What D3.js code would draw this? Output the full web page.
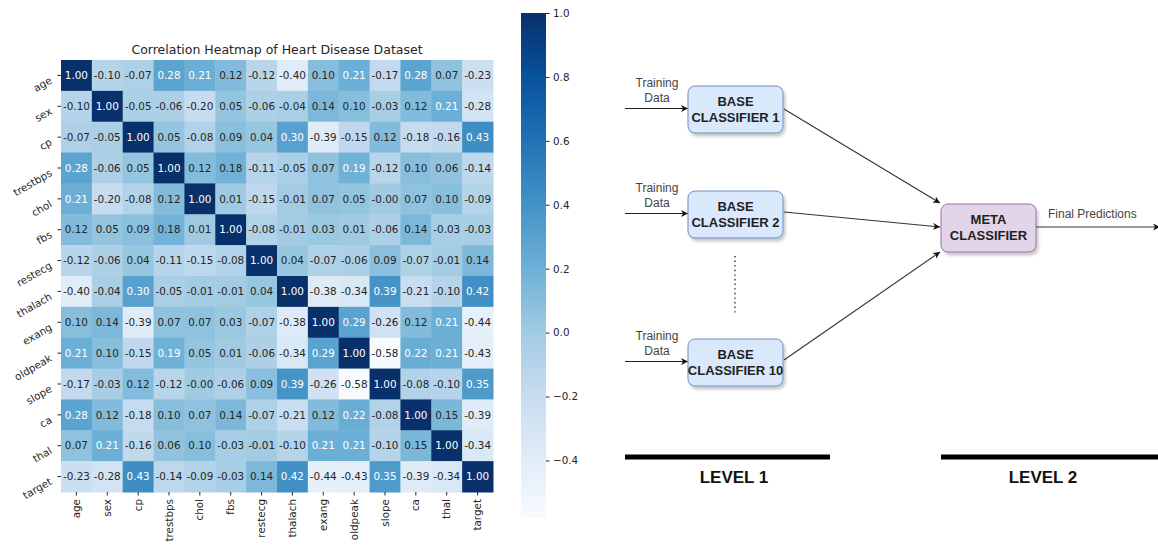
<!DOCTYPE html>
<html>
<head>
<meta charset="utf-8">
<script src="https://cdn.jsdelivr.net/npm/d3@7"></script>
<style>
  body { margin: 0; background: #fff; }
  svg { display: block; }
</style>
</head>
<body>
<div id="chart"></div>
<script>
// ---- data ----
var features = ["age", "sex", "cp", "trestbps", "chol", "fbs", "restecg",
                "thalach", "exang", "oldpeak", "slope", "ca", "thal", "target"];

var corrAge      = [ 1.00, -0.10, -0.07,  0.28,  0.21,  0.12, -0.12, -0.40,  0.10,  0.21, -0.17,  0.28,  0.07, -0.23];
var corrSex      = [-0.10,  1.00, -0.05, -0.06, -0.20,  0.05, -0.06, -0.04,  0.14,  0.10, -0.03,  0.12,  0.21, -0.28];
var corrCp       = [-0.07, -0.05,  1.00,  0.05, -0.08,  0.09,  0.04,  0.30, -0.39, -0.15,  0.12, -0.18, -0.16,  0.43];
var corrTrestbps = [ 0.28, -0.06,  0.05,  1.00,  0.12,  0.18, -0.11, -0.05,  0.07,  0.19, -0.12,  0.10,  0.06, -0.14];
var corrChol     = [ 0.21, -0.20, -0.08,  0.12,  1.00,  0.01, -0.15, -0.01,  0.07,  0.05, -0.004, 0.07,  0.10, -0.09];
var corrFbs      = [ 0.12,  0.05,  0.09,  0.18,  0.01,  1.00, -0.08, -0.01,  0.03,  0.01, -0.06,  0.14, -0.03, -0.03];
var corrRestecg  = [-0.12, -0.06,  0.04, -0.11, -0.15, -0.08,  1.00,  0.04, -0.07, -0.06,  0.09, -0.07, -0.01,  0.14];
var corrThalach  = [-0.40, -0.04,  0.30, -0.05, -0.01, -0.01,  0.04,  1.00, -0.38, -0.34,  0.39, -0.21, -0.10,  0.42];
var corrExang    = [ 0.10,  0.14, -0.39,  0.07,  0.07,  0.03, -0.07, -0.38,  1.00,  0.29, -0.26,  0.12,  0.21, -0.44];
var corrOldpeak  = [ 0.21,  0.10, -0.15,  0.19,  0.05,  0.01, -0.06, -0.34,  0.29,  1.00, -0.58,  0.22,  0.21, -0.43];
var corrSlope    = [-0.17, -0.03,  0.12, -0.12, -0.004,-0.06,  0.09,  0.39, -0.26, -0.58,  1.00, -0.08, -0.10,  0.35];
var corrCa       = [ 0.28,  0.12, -0.18,  0.10,  0.07,  0.14, -0.07, -0.21,  0.12,  0.22, -0.08,  1.00,  0.15, -0.39];
var corrThal     = [ 0.07,  0.21, -0.16,  0.06,  0.10, -0.03, -0.01, -0.10,  0.21,  0.21, -0.10,  0.15,  1.00, -0.34];
var corrTarget   = [-0.23, -0.28,  0.43, -0.14, -0.09, -0.03,  0.14,  0.42, -0.44, -0.43,  0.35, -0.39, -0.34,  1.00];

var corrRows = [corrAge, corrSex, corrCp, corrTrestbps, corrChol, corrFbs, corrRestecg,
                corrThalach, corrExang, corrOldpeak, corrSlope, corrCa, corrThal, corrTarget];

var cbarTicks = [-0.4, -0.2, 0.0, 0.2, 0.4, 0.6, 0.8, 1.0];
var vmin = -0.58, vmax = 1.0;
var title = "Correlation Heatmap of Heart Disease Dataset";

// diagram texts
var baseLabels = ["CLASSIFIER 1", "CLASSIFIER 2", "CLASSIFIER 10"];
var inputLabel = ["Training", "Data"];
var metaLabel = ["META", "CLASSIFIER"];
var outputLabel = "Final Predictions";
var levelLabels = ["LEVEL 1", "LEVEL 2"];

// matplotlib "Blues" control colours
var blues = ["#f7fbff", "#deebf7", "#c6dbef", "#9ecae1", "#6baed6",
             "#4292c6", "#2171b5", "#08519c", "#08306b"];

// ---- setup ----
var W = 1158, H = 545;
var svg = d3.select("#chart").append("svg")
    .attr("width", W).attr("height", H);

var mpl = "'DejaVu Sans', sans-serif";
var helv = "'Liberation Sans', Arial, Helvetica, sans-serif";

var cells = [];
corrRows.forEach(function(row, i){
    row.forEach(function(v, j){
        cells.push({ row: features[i], col: features[j], value: v });
    })
})

var hm = { left: 61, top: 60, size: 432 };

var x = d3.scaleBand().domain(features).range([hm.left, hm.left + hm.size]);
var y = d3.scaleBand().domain(features).range([hm.top, hm.top + hm.size]);

var color = d3.scaleLinear()
    .domain(blues.map(function(d, i){ return vmin + i * (vmax - vmin) / (blues.length - 1); }))
    .range(blues)
    .interpolate(d3.interpolateRgb)
    .clamp(true);

function luminance(c){
    var rgb = d3.rgb(c);
    var ch = [rgb.r, rgb.g, rgb.b].map(function(v){
        v = v / 255;
        return v <= 0.03928 ? v / 12.92 : Math.pow((v + 0.055) / 1.055, 2.4);
    });
    return 0.2126 * ch[0] + 0.7152 * ch[1] + 0.0722 * ch[2];
}

// ---- heatmap ----
var heat = svg.append("g");

heat.selectAll("rect.cell")
    .data(cells)
    .enter()
    .append("rect")
        .attr("class", "cell")
        .attr("x", function(d){ return x(d.col); })
        .attr("y", function(d){ return y(d.row); })
        .attr("width", x.bandwidth() + 0.5)
        .attr("height", y.bandwidth() + 0.5)
        .attr("fill", function(d){ return color(d.value); });

heat.selectAll("text.annot")
    .data(cells)
    .enter()
    .append("text")
        .attr("class", "annot")
        .attr("x", function(d){ return x(d.col) + x.bandwidth() / 2; })
        .attr("y", function(d){ return y(d.row) + y.bandwidth() / 2; })
        .attr("dy", "0.36em")
        .attr("text-anchor", "middle")
        .attr("font-family", mpl)
        .attr("font-size", 10.4)
        .attr("fill", function(d){ return luminance(color(d.value)) > 0.401 ? "#262626" : "#ffffff"; })
        .text(function(d){ return d.value.toFixed(2); });

heat.append("text")
    .attr("x", hm.left + hm.size / 2)
    .attr("y", 54)
    .attr("text-anchor", "middle")
    .attr("font-family", mpl)
    .attr("font-size", 12.5)
    .attr("fill", "#262626")
    .text(title);

// y axis
var yAxis = heat.append("g")
    .attr("transform", "translate(" + hm.left + ",0)")
    .call(d3.axisLeft(y).tickSize(3.5).tickPadding(3));
yAxis.select(".domain").remove();
yAxis.selectAll(".tick line").attr("stroke", "#262626");
yAxis.selectAll(".tick text")
    .attr("font-family", mpl)
    .attr("font-size", 10.4)
    .attr("fill", "#262626")
    .attr("x", null)
    .attr("dy", "0.35em")
    .attr("transform", "translate(-10,4) rotate(-30)");

// x axis
var xAxis = heat.append("g")
    .attr("transform", "translate(0," + (hm.top + hm.size) + ")")
    .call(d3.axisBottom(x).tickSize(3.5).tickPadding(3));
xAxis.select(".domain").remove();
xAxis.selectAll(".tick line").attr("stroke", "#262626");
xAxis.selectAll(".tick text")
    .attr("font-family", mpl)
    .attr("font-size", 10.4)
    .attr("fill", "#262626")
    .attr("y", null).attr("dy", null)
    .attr("text-anchor", "end")
    .attr("transform", "translate(0,7) rotate(-90)")
    .attr("dy", "0.35em");

// ---- colorbar ----
var cb = { left: 521, width: 25, top: 13, bottom: 518 };
var cy = d3.scaleLinear().domain([vmin, vmax]).range([cb.bottom, cb.top]);

var defs = svg.append("defs");
var grad = defs.append("linearGradient")
    .attr("id", "cbar")
    .attr("x1", 0).attr("y1", 1).attr("x2", 0).attr("y2", 0);
grad.selectAll("stop")
    .data(blues)
    .enter()
    .append("stop")
        .attr("offset", function(d, i){ return i / (blues.length - 1); })
        .attr("stop-color", function(d){ return d; });

svg.append("rect")
    .attr("x", cb.left).attr("y", cb.top)
    .attr("width", cb.width).attr("height", cb.bottom - cb.top)
    .attr("fill", "url(#cbar)");

var cAxis = svg.append("g")
    .attr("transform", "translate(" + (cb.left + cb.width) + ",0)")
    .call(d3.axisRight(cy).tickValues(cbarTicks).tickFormat(d3.format(".1f")).tickSize(3.5).tickPadding(3.5));
cAxis.select(".domain").remove();
cAxis.selectAll(".tick line").attr("stroke", "#262626");
cAxis.selectAll(".tick text")
    .attr("font-family", mpl)
    .attr("font-size", 10.4)
    .attr("fill", "#262626");

// ---- stacking diagram ----
var dia = svg.append("g");

defs.append("marker")
    .attr("id", "arrow")
    .attr("viewBox", "0 0 10 10")
    .attr("refX", 10).attr("refY", 5)
    .attr("markerWidth", 7).attr("markerHeight", 7)
    .attr("markerUnits", "userSpaceOnUse")
    .attr("orient", "auto")
    .append("path")
        .attr("d", "M0,0 L10,5 L0,10 L3,5 Z")
        .attr("fill", "#111");

var shadow = defs.append("filter")
    .attr("id", "shadow")
    .attr("x", "-20%").attr("y", "-20%").attr("width", "140%").attr("height", "150%");
shadow.append("feDropShadow")
    .attr("dx", 2).attr("dy", 3).attr("stdDeviation", 1.5)
    .attr("flood-color", "#000").attr("flood-opacity", 0.22);

var boxW = 95, boxH = 47;
var baseX = 688;
var baseCY = [109.5, 214.5, 362.5];
var meta = { x: 941, cy: 228 };

var base = dia.selectAll("g.base")
    .data(baseLabels)
    .enter()
    .append("g")
        .attr("class", "base")
        .attr("transform", function(d, i){ return "translate(0," + baseCY[i] + ")"; });

// input arrows and their labels
base.append("line")
    .attr("x1", 625).attr("x2", baseX)
    .attr("y1", -1).attr("y2", -1)
    .attr("stroke", "#222").attr("stroke-width", 1.1)
    .attr("marker-end", "url(#arrow)");

inputLabel.forEach(function(t, k){
    base.append("text")
        .attr("x", 657)
        .attr("y", -23 + k * 15)
        .attr("text-anchor", "middle")
        .attr("font-family", helv)
        .attr("font-size", 12)
        .attr("fill", "#444")
        .text(t);
})

base.append("rect")
    .attr("x", baseX).attr("y", -boxH / 2)
    .attr("width", boxW).attr("height", boxH)
    .attr("rx", 7).attr("ry", 7)
    .attr("fill", "#dae8fc").attr("stroke", "#6c8ebf").attr("stroke-width", 1)
    .attr("filter", "url(#shadow)");

base.append("text")
    .attr("x", baseX + boxW / 2).attr("y", -4)
    .attr("text-anchor", "middle")
    .attr("font-family", helv).attr("font-weight", "bold").attr("font-size", 13)
    .attr("fill", "#222")
    .text("BASE");

base.append("text")
    .attr("x", baseX + boxW / 2).attr("y", 12)
    .attr("text-anchor", "middle")
    .attr("font-family", helv).attr("font-weight", "bold").attr("font-size", 13)
    .attr("fill", "#222")
    .text(function(d){ return d; });

// dotted gap between classifier 2 and 10
dia.append("line")
    .attr("x1", 735).attr("x2", 735)
    .attr("y1", 256).attr("y2", 315)
    .attr("stroke", "#333").attr("stroke-width", 1.4)
    .attr("stroke-dasharray", "1.4,3.2");

// links base -> meta
var linkEnds = [[109, 203], [212, 227], [360, 252]];
dia.selectAll("line.link")
    .data(linkEnds)
    .enter()
    .append("line")
        .attr("class", "link")
        .attr("x1", baseX + boxW + 1).attr("y1", function(d){ return d[0]; })
        .attr("x2", meta.x - 1).attr("y2", function(d){ return d[1]; })
        .attr("stroke", "#333").attr("stroke-width", 1.1)
        .attr("marker-end", "url(#arrow)");

// meta classifier
dia.append("rect")
    .attr("x", meta.x).attr("y", meta.cy - boxH / 2 - 0.5)
    .attr("width", boxW).attr("height", boxH + 1)
    .attr("rx", 7).attr("ry", 7)
    .attr("fill", "#e1d5e7").attr("stroke", "#9673a6").attr("stroke-width", 1)
    .attr("filter", "url(#shadow)");

metaLabel.forEach(function(t, k){
    dia.append("text")
        .attr("x", meta.x + boxW / 2).attr("y", meta.cy - 4 + k * 16)
        .attr("text-anchor", "middle")
        .attr("font-family", helv).attr("font-weight", "bold").attr("font-size", 13)
        .attr("fill", "#222")
        .text(t);
})

// output arrow
dia.append("line")
    .attr("x1", meta.x + boxW).attr("x2", W + 2)
    .attr("y1", 227).attr("y2", 227)
    .attr("stroke", "#333").attr("stroke-width", 1.1)
    .attr("marker-end", "url(#arrow)");

dia.append("text")
    .attr("x", 1048).attr("y", 218)
    .attr("font-family", helv).attr("font-size", 12)
    .attr("fill", "#444")
    .text(outputLabel);

// level bars
var levels = [
    { x1: 625, x2: 830, tx: 734 },
    { x1: 941, x2: W, tx: 1043 }
];
levels.forEach(function(l, k){
    dia.append("rect")
        .attr("x", l.x1).attr("y", 454.5)
        .attr("width", l.x2 - l.x1).attr("height", 5)
        .attr("fill", "#000");
    dia.append("text")
        .attr("x", l.tx).attr("y", 483)
        .attr("text-anchor", "middle")
        .attr("font-family", helv).attr("font-weight", "bold").attr("font-size", 17)
        .attr("fill", "#111")
        .text(levelLabels[k]);
})
</script>
</body>
</html>
